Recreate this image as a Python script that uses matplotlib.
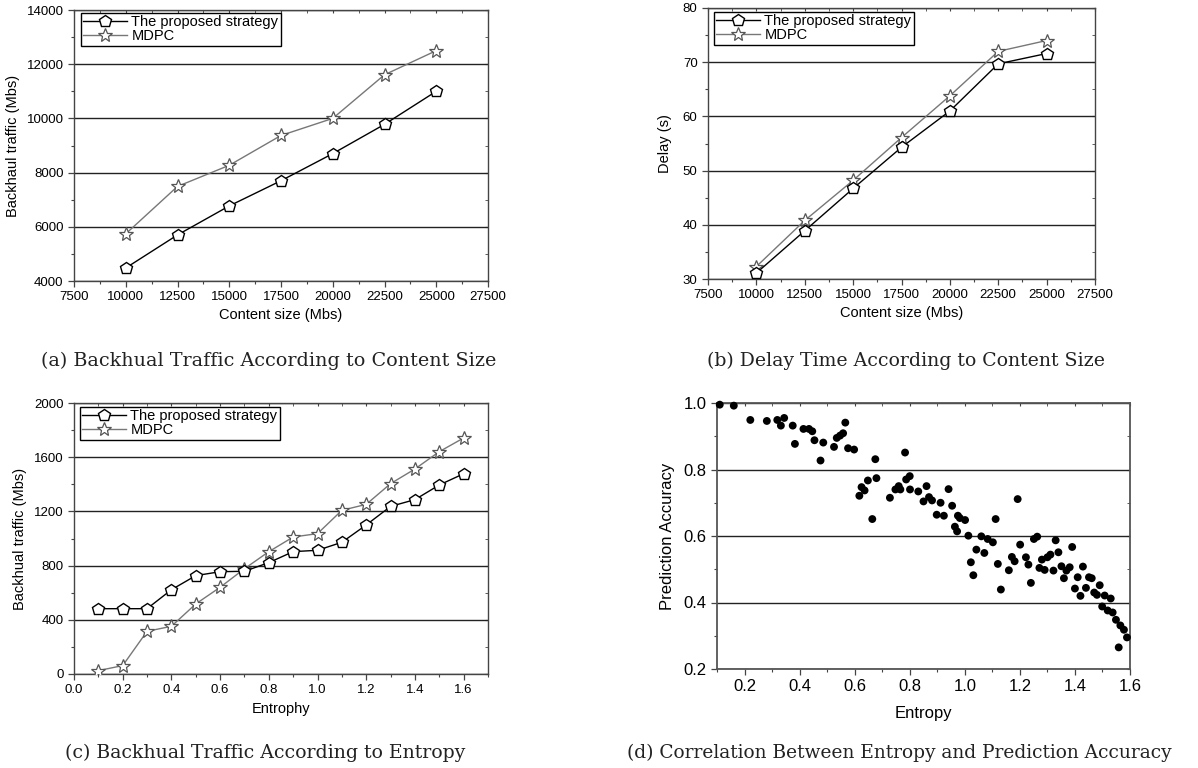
import numpy as np
import matplotlib
matplotlib.use('Agg')
import matplotlib.pyplot as plt
from matplotlib.ticker import MultipleLocator

plt.rcParams['font.family'] = ['Liberation Sans', 'DejaVu Sans']

# ---- data ----
content_size = [10000, 12500, 15000, 17500, 20000, 22500, 25000]
traffic_proposed = [4480, 5700, 6770, 7700, 8700, 9780, 11000]
traffic_mdpc = [5740, 7490, 8270, 9370, 10000, 11610, 12500]

delay_proposed = [31.1, 38.9, 46.7, 54.3, 61.0, 69.7, 71.6]
delay_mdpc = [32.3, 40.8, 48.2, 56.1, 63.8, 72.0, 74.0]

entrophy = [0.1, 0.2, 0.3, 0.4, 0.5, 0.6, 0.7, 0.8, 0.9, 1.0, 1.1, 1.2, 1.3, 1.4, 1.5, 1.6]
ent_proposed = [482, 482, 482, 622, 726, 755, 758, 822, 903, 913, 972, 1100, 1237, 1287, 1395, 1478]
ent_mdpc = [25, 62, 315, 352, 517, 640, 777, 903, 1011, 1036, 1208, 1252, 1405, 1513, 1641, 1742]

entropy_pts = [0.110, 0.161, 0.221, 0.281, 0.319, 0.332, 0.344, 0.375, 0.383, 0.414,
               0.434, 0.446, 0.454, 0.476, 0.486, 0.525, 0.535, 0.547, 0.558, 0.566,
               0.576, 0.598, 0.617, 0.625, 0.636, 0.648, 0.679, 0.675, 0.664, 0.728,
               0.748, 0.760, 0.766, 0.783, 0.787, 0.800, 0.801, 0.831, 0.861, 0.850,
               0.870, 0.881, 0.898, 0.912, 0.924, 0.941, 0.954, 0.964, 0.972, 0.975,
               0.982, 1.001, 1.013, 1.022, 1.031, 1.042, 1.060, 1.071, 1.083, 1.102,
               1.112, 1.120, 1.131, 1.160, 1.171, 1.181, 1.192, 1.201, 1.222, 1.231,
               1.240, 1.251, 1.263, 1.271, 1.280, 1.290, 1.300, 1.311, 1.322, 1.330,
               1.340, 1.351, 1.360, 1.369, 1.381, 1.390, 1.400, 1.410, 1.420, 1.429,
               1.440, 1.451, 1.461, 1.470, 1.480, 1.490, 1.499, 1.508, 1.519, 1.530,
               1.537, 1.549, 1.559, 1.565, 1.578, 1.589]
accuracy_pts = [0.995, 0.992, 0.949, 0.946, 0.949, 0.932, 0.955, 0.932, 0.877, 0.922,
                0.922, 0.915, 0.888, 0.827, 0.881, 0.868, 0.895, 0.902, 0.909, 0.941,
                0.864, 0.860, 0.721, 0.747, 0.737, 0.767, 0.774, 0.831, 0.651, 0.715,
                0.740, 0.750, 0.740, 0.851, 0.770, 0.780, 0.740, 0.734, 0.750, 0.704,
                0.717, 0.707, 0.664, 0.700, 0.661, 0.741, 0.691, 0.628, 0.614, 0.661,
                0.654, 0.648, 0.601, 0.521, 0.482, 0.559, 0.599, 0.549, 0.591, 0.581,
                0.651, 0.516, 0.439, 0.497, 0.537, 0.524, 0.711, 0.574, 0.536, 0.514,
                0.459, 0.591, 0.598, 0.504, 0.529, 0.498, 0.536, 0.544, 0.496, 0.587,
                0.551, 0.509, 0.473, 0.496, 0.506, 0.567, 0.442, 0.476, 0.420, 0.508,
                0.444, 0.476, 0.473, 0.430, 0.423, 0.452, 0.388, 0.421, 0.376, 0.412,
                0.370, 0.348, 0.265, 0.331, 0.318, 0.295]

W, H = 1198, 768
fig = plt.figure(figsize=(W / 100, H / 100), dpi=100)


def add_axes(left, top, right, bottom):
    return fig.add_axes([left / W, 1 - bottom / H, (right - left) / W, (bottom - top) / H])


def style_axes(ax, tick_fs):
    for sp in ax.spines.values():
        sp.set_color('#444444')
        sp.set_linewidth(1.0)
    ax.tick_params(which='major', direction='out', length=4, width=0.9,
                   labelsize=tick_fs, color='#444444')
    ax.tick_params(which='minor', direction='out', length=2.5, width=0.8, color='#444444')
    ax.yaxis.grid(True, which='major', color='#222222', linewidth=1.0)
    ax.set_axisbelow(True)
    # small inward ticks on top and right
    top = ax.secondary_xaxis('top')
    top.tick_params(which='both', direction='in', length=2.5, labeltop=False, color='#444444')
    top.xaxis.set_major_locator(ax.xaxis.get_major_locator())
    top.xaxis.set_minor_locator(ax.xaxis.get_minor_locator())
    right = ax.secondary_yaxis('right')
    right.tick_params(which='both', direction='in', length=2.5, labelright=False, color='#444444')
    right.yaxis.set_major_locator(ax.yaxis.get_major_locator())
    right.yaxis.set_minor_locator(ax.yaxis.get_minor_locator())
    for s in list(top.spines.values()) + list(right.spines.values()):
        s.set_visible(False)


def two_lines(ax, x, y1, y2, dx, dy):
    ax.plot(x, y1, color='black', linewidth=1.0, marker='p', markersize=9,
            markerfacecolor='white', markeredgecolor='black', markeredgewidth=1.0,
            label='The proposed strategy', zorder=4)
    ax.plot(x, y2, color='#777777', linewidth=1.0, marker='*', markersize=10,
            markerfacecolor='white', markeredgecolor='#555555', markeredgewidth=0.9,
            label='MDPC', zorder=3)
    # legend offset from the upper-left corner, in pixels
    bb = ax.get_position()
    ax_w, ax_h = bb.width * W, bb.height * H
    leg = ax.legend(loc='upper left', bbox_to_anchor=(dx / ax_w, 1 - dy / ax_h),
                    fontsize=10.5, frameon=True, fancybox=False,
                    edgecolor='black', framealpha=1, borderpad=0.15, labelspacing=0.02,
                    handlelength=3.0, handletextpad=0.3, borderaxespad=0)
    leg.get_frame().set_linewidth(1.0)


# (a) backhaul traffic vs content size
ax1 = add_axes(74, 10, 488, 281)
two_lines(ax1, content_size, traffic_proposed, traffic_mdpc, 7, 3)
ax1.set_xlim(7500, 27500)
ax1.set_ylim(4000, 14000)
ax1.xaxis.set_major_locator(MultipleLocator(2500))
ax1.xaxis.set_minor_locator(MultipleLocator(1250))
ax1.yaxis.set_major_locator(MultipleLocator(2000))
ax1.yaxis.set_minor_locator(MultipleLocator(1000))
ax1.set_xlabel('Content size (Mbs)', fontsize=10.5, labelpad=3)
ax1.set_ylabel('Backhaul traffic (Mbs)', fontsize=10.5, labelpad=5)
style_axes(ax1, 9.5)

# (b) delay vs content size
ax2 = add_axes(708, 8, 1095, 279)
two_lines(ax2, content_size, delay_proposed, delay_mdpc, 6, 4)
ax2.set_xlim(7500, 27500)
ax2.set_ylim(30, 80)
ax2.xaxis.set_major_locator(MultipleLocator(2500))
ax2.xaxis.set_minor_locator(MultipleLocator(1250))
ax2.yaxis.set_major_locator(MultipleLocator(10))
ax2.yaxis.set_minor_locator(MultipleLocator(5))
ax2.set_xlabel('Content size (Mbs)', fontsize=10.5, labelpad=3)
ax2.set_ylabel('Delay (s)', fontsize=10.5, labelpad=8)
style_axes(ax2, 9.5)

# (c) backhaul traffic vs entropy
ax3 = add_axes(74, 403, 488, 674)
two_lines(ax3, entrophy, ent_proposed, ent_mdpc, 6, 4)
ax3.set_xlim(0.0, 1.7)
ax3.set_ylim(0, 2000)
ax3.xaxis.set_major_locator(MultipleLocator(0.2))
ax3.xaxis.set_minor_locator(MultipleLocator(0.1))
ax3.yaxis.set_major_locator(MultipleLocator(400))
ax3.yaxis.set_minor_locator(MultipleLocator(200))
ax3.set_xlabel('Entrophy', fontsize=10.5, labelpad=4)
ax3.set_ylabel('Backhual traffic (Mbs)', fontsize=10.5, labelpad=5)
style_axes(ax3, 9.5)

# (d) entropy vs prediction accuracy
ax4 = add_axes(717, 403, 1130, 669)
ax4.scatter(entropy_pts, accuracy_pts, s=32, color='black', edgecolors='none', zorder=4,
            clip_on=False)
ax4.set_xlim(0.1, 1.6)
ax4.set_ylim(0.2, 1.0)
ax4.set_xticks([0.2, 0.4, 0.6, 0.8, 1.0, 1.2, 1.4, 1.6])
ax4.xaxis.set_minor_locator(MultipleLocator(0.1))
ax4.yaxis.set_major_locator(MultipleLocator(0.2))
ax4.yaxis.set_minor_locator(MultipleLocator(0.1))
ax4.set_xlabel('Entropy', fontsize=12, labelpad=8)
ax4.set_ylabel('Prediction Accuracy', fontsize=12, labelpad=6)
style_axes(ax4, 12)
for sp in ax4.spines.values():
    sp.set_color('#555555')
    sp.set_linewidth(1.3)

# captions
cap_kw = dict(family='DejaVu Serif', color='#222222', va='center', ha='left')
fig.text(41 / W, 1 - 361 / H, '(a) Backhual Traffic According to Content Size',
         fontsize=13.8, **cap_kw)
fig.text(707 / W, 1 - 361 / H, '(b) Delay Time According to Content Size',
         fontsize=13.6, **cap_kw)
fig.text(65 / W, 1 - 753 / H, '(c) Backhual Traffic According to Entropy',
         fontsize=13.6, **cap_kw)
fig.text(1172 / W, 1 - 753 / H, '(d) Correlation Between Entropy and Prediction Accuracy',
         fontsize=13.4, family='DejaVu Serif', color='#222222', va='center', ha='right')

fig.savefig('out.png', dpi=100)
